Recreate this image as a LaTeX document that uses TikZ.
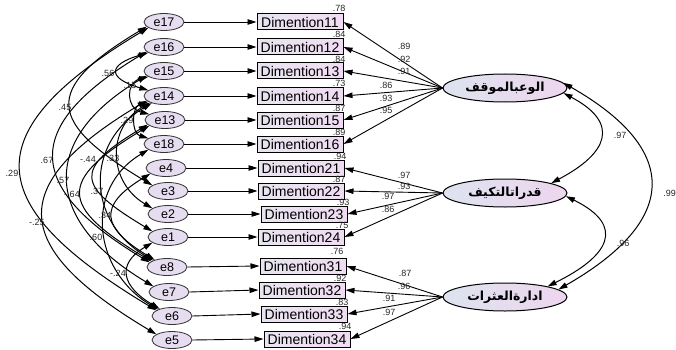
\documentclass[tikz,border=0pt]{standalone}
\usepackage{fontspec}
\setmainfont{Liberation Sans}
\newfontfamily\arabicfont[Script=Arabic]{DejaVu Sans}
\TeXXeTstate=1
\usetikzlibrary{arrows.meta,shapes.geometric}
\definecolor{errfill}{HTML}{E7DDF1}
\definecolor{boxL}{HTML}{E8E4F0}
\definecolor{boxR}{HTML}{F0DCF2}
\definecolor{latL}{HTML}{DDE3EF}
\definecolor{latR}{HTML}{EED6EE}
\begin{document}
\begin{tikzpicture}[x=1pt,y=-1pt,
  err/.style={ellipse, draw=black!80, line width=0.8pt, fill=errfill, minimum width=40pt, minimum height=17pt, inner sep=0pt, font=\fontsize{12.5}{12.5}\selectfont},
  obs/.style={rectangle, draw=black, line width=1pt, left color=boxL, right color=boxR, minimum width=86pt, minimum height=16pt, inner sep=0pt, font=\fontsize{14}{14}\selectfont},
  lat/.style={ellipse, draw=black, line width=1pt, left color=latL, right color=latR, minimum width=124pt, minimum height=28pt, inner sep=0pt, font=\arabicfont\bfseries\fontsize{12.5}{12.5}\selectfont},
  pth/.style={-{Triangle[length=9pt,width=5.5pt]}, line width=0.9pt},
  cov/.style={{Triangle[length=9pt,width=5.5pt]}-{Triangle[length=9pt,width=5.5pt]}, line width=1pt},
  lbl/.style={font=\fontsize{9}{9}\selectfont, text=black!85, inner sep=0pt}]
\useasboundingbox (0,0) rectangle (676,350);

% error terms
\node[err] (e17) at (164,22) {e17};
\node[err] (e16) at (164,47) {e16};
\node[err] (e15) at (164,71) {e15};
\node[err] (e14) at (164,96) {e14};
\node[err] (e13) at (165,120) {e13};
\node[err] (e18) at (164,144) {e18};
\node[err] (e4) at (166,168) {e4};
\node[err] (e3) at (168,191) {e3};
\node[err] (e2) at (168,214) {e2};
\node[err] (e1) at (168,237) {e1};
\node[err] (e8) at (167,267) {e8};
\node[err] (e7) at (169,292) {e7};
\node[err] (e6) at (172,316) {e6};
\node[err] (e5) at (172,340) {e5};

% observed
\node[obs] (d11) at (300,22) {Dimention11};
\node[obs] (d12) at (300,47) {Dimention12};
\node[obs] (d13) at (300,71) {Dimention13};
\node[obs] (d14) at (300,96) {Dimention14};
\node[obs] (d15) at (300,120) {Dimention15};
\node[obs] (d16) at (300,144) {Dimention16};
\node[obs] (d21) at (301,168) {Dimention21};
\node[obs] (d22) at (301,191) {Dimention22};
\node[obs] (d23) at (304,214) {Dimention23};
\node[obs] (d24) at (301,237) {Dimention24};
\node[obs] (d31) at (303,266) {Dimention31};
\node[obs] (d32) at (302,290) {Dimention32};
\node[obs] (d33) at (304,314) {Dimention33};
\node[obs] (d34) at (307,339) {Dimention34};

% latent
\node[lat] (L1) at (505,88) {\beginR الوعبالموقف\endR};
\node[lat] (L2) at (505,193) {\beginR قدراتالتكيف\endR};
\node[lat] (L3) at (505,297) {\beginR ادارةالعثرات\endR};

% error -> observed
\foreach \e/\d in {e17/d11,e16/d12,e15/d13,e14/d14,e13/d15,e18/d16,e4/d21,e3/d22,e2/d23,e1/d24,e8/d31,e7/d32,e6/d33,e5/d34}
  \draw[pth] (\e.east) -- (\d.west);

% loadings
\foreach \d in {d11,d12,d13,d14,d15,d16} \draw[pth] (L1.west) -- (\d.east);
\foreach \d in {d21,d22,d23,d24} \draw[pth] (L2.west) -- (\d.east);
\foreach \d in {d31,d32,d33,d34} \draw[pth] (L3.west) -- (\d.east);

% error covariances
\draw[cov] (e17.200) .. controls +(-175,105) and +(-175,-105) .. (e6.160);
\draw[cov] (e17.195) .. controls +(-105,63) and +(-105,-63) .. (e3.160);
\draw[cov] (e16.200) .. controls +(-41,12) and +(-41,-12) .. (e14.160);
\draw[cov] (e15.200) .. controls +(-23,6) and +(-23,-6) .. (e13.160);
\draw[cov] (e14.200) .. controls +(-17,5) and +(-17,-5) .. (e18.160);
\draw[cov] (e16.195) .. controls +(-125,75) and +(-125,-75) .. (e8.165);
\draw[cov] (e15.195) .. controls +(-109,65) and +(-109,-65) .. (e7.160);
\draw[cov] (e14.195) .. controls +(-144,86) and +(-144,-86) .. (e5.160);
\draw[cov] (e13.200) .. controls +(-92,55) and +(-92,-55) .. (e8.160);
\draw[cov] (e13.195) .. controls +(-75,45) and +(-75,-45) .. (e1.160);
\draw[cov] (e14.205) .. controls +(-44,26) and +(-44,-26) .. (e2.160);
\draw[cov] (e14.210) .. controls +(-67,40) and +(-67,-40) .. (e8.155);
\draw[cov] (e4.200) .. controls +(-53,32) and +(-53,-32) .. (e8.150);
\draw[cov] (e18.200) .. controls +(-65,39) and +(-65,-39) .. (e6.155);
\draw[cov] (e1.200) .. controls +(-37,22) and +(-37,-22) .. (e6.150);

% latent covariances
\draw[cov] (L1.355) .. controls +(57,30) and +(57,-30) .. (L2.12);
\draw[cov] (L1.5) .. controls +(119,68) and +(119,-68) .. (L3.8);
\draw[cov] (L2.357) .. controls +(61,30) and +(61,-30) .. (L3.14);

% covariance labels
\node[lbl] at (108,73) {.56};
\node[lbl] at (130,85) {.15};
\node[lbl] at (65,107) {.45};
\node[lbl] at (127,120) {.29};
\node[lbl] at (47,160) {.67};
\node[lbl] at (88,159) {-.44};
\node[lbl] at (113,158) {.33};
\node[lbl] at (12,173) {.29};
\node[lbl] at (63,180) {.57};
\node[lbl] at (72,194) {-.64};
\node[lbl] at (97,191) {.37};
\node[lbl] at (105,215) {.34};
\node[lbl] at (96,237) {.60};
\node[lbl] at (37,222) {-.25};
\node[lbl] at (118,273) {-.24};
\node[lbl] at (620,135) {.97};
\node[lbl] at (623,243) {.96};
\node[lbl,anchor=east] at (676,193) {.99};

% squared multiple correlations
\node[lbl] at (339,8) {.78};
\node[lbl] at (339,34.5) {.84};
\node[lbl] at (339,59) {.84};
\node[lbl] at (339,83.5) {.73};
\node[lbl] at (339,108) {.87};
\node[lbl] at (339,132) {.89};
\node[lbl] at (340,156) {.94};
\node[lbl] at (339,179.5) {.87};
\node[lbl] at (343,202.5) {.93};
\node[lbl] at (342,225.5) {.75};
\node[lbl] at (337,251) {.76};
\node[lbl] at (340,278) {.92};
\node[lbl] at (342,302) {.83};
\node[lbl] at (345,326.5) {.94};

% loading labels
\node[lbl] at (404,46) {.89};
\node[lbl] at (404,59) {.92};
\node[lbl] at (404,71) {.91};
\node[lbl] at (386,85) {.86};
\node[lbl] at (386,98) {.93};
\node[lbl] at (386,110) {.95};
\node[lbl] at (404,175) {.97};
\node[lbl] at (404,186) {.93};
\node[lbl] at (388,196) {.97};
\node[lbl] at (388,209) {.86};
\node[lbl] at (405,273) {.87};
\node[lbl] at (404,286) {.96};
\node[lbl] at (389,298) {.91};
\node[lbl] at (389,312) {.97};
\end{tikzpicture}
\end{document}
